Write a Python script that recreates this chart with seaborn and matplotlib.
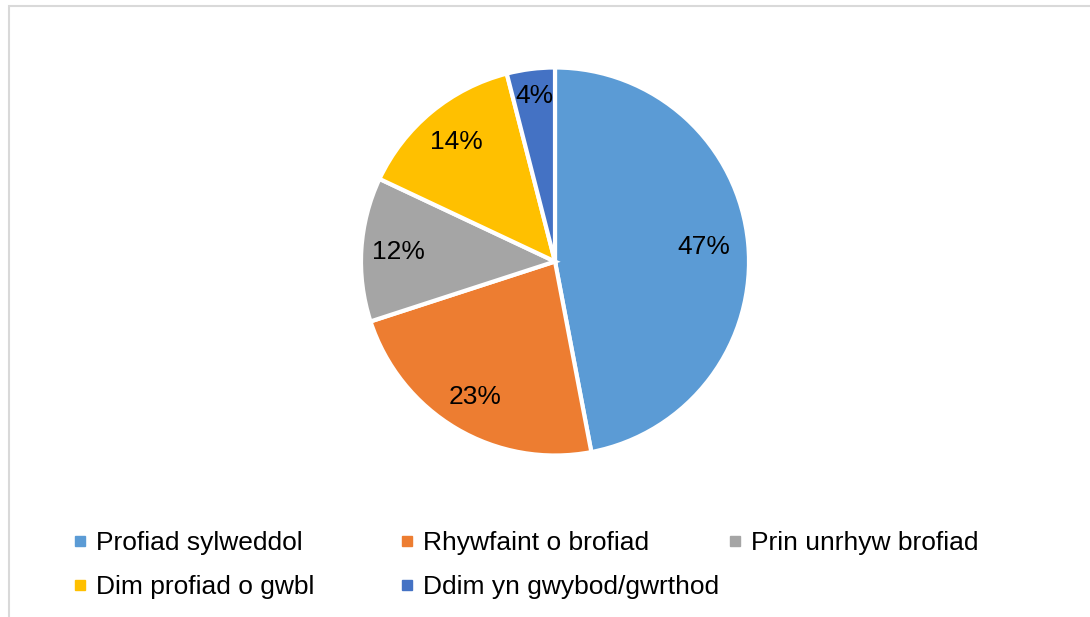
import matplotlib
matplotlib.use("Agg")
import numpy as np
import matplotlib.pyplot as plt
import seaborn as sns
from matplotlib.lines import Line2D
from matplotlib.patches import Rectangle

# data
categories = ['Profiad sylweddol', 'Rhywfaint o brofiad', 'Prin unrhyw brofiad',
              'Dim profiad o gwbl', 'Ddim yn gwybod/gwrthod']
shares = [47, 23, 12, 14, 4]
colors = ['#5B9BD5', '#ED7D31', '#A5A5A5', '#FFC000', '#4472C4']
label_dist = [0.77, 0.81, 0.81, 0.80, 0.86]  # radial position of % labels

sns.set_theme(style='white')
plt.rcParams['font.family'] = ['Liberation Sans', 'DejaVu Sans']
plt.rcParams['text.color'] = 'black'

W, H = 1090, 617
fig = plt.figure(figsize=(W / 100, H / 100), dpi=100)

# outer chart border (only left and top edges visible in the crop)
fig.patches.append(Rectangle((8.5 / W, -0.1), 1.2, (H - 5.5) / H + 0.1,
                             transform=fig.transFigure, fill=False,
                             edgecolor='#D9D9D9', linewidth=1.5))

# pie axes: centre (555, 262), radius ~194 px
cx, cy, r = 555, 261.5, 194
ax = fig.add_axes([(cx - r) / W, (H - cy - r) / H, 2 * r / W, 2 * r / H])
wedges, _, autotexts = ax.pie(shares, colors=colors, startangle=90, counterclock=False,
                              autopct='%d%%', pctdistance=0.8,
                              wedgeprops=dict(edgecolor='white', linewidth=3),
                              textprops=dict(fontsize=19, color='black'))
for w, t, d in zip(wedges, autotexts, label_dist):
    mid = np.deg2rad((w.theta1 + w.theta2) / 2)
    t.set_position((d * np.cos(mid), d * np.sin(mid)))
ax.set_xlim(-1, 1)
ax.set_ylim(-1, 1)
ax.set_aspect('equal')
ax.axis('off')

# legend: fixed-width columns, row-major order
col_x = [75, 402, 730]
columns = [[0, 3], [1, 4], [2]]
for x, idx in zip(col_x, columns):
    handles = [Line2D([], [], linestyle='none', marker='s', markersize=7,
                      markerfacecolor=colors[i], markeredgecolor=colors[i])
               for i in idx]
    fig.legend(handles, [categories[i] for i in idx],
               loc='upper left', bbox_to_anchor=(x / W, (H - 531) / H),
               frameon=False, fontsize=19, handlelength=0.4,
               handletextpad=0.4, labelspacing=0.75,
               borderpad=0, borderaxespad=0, labelcolor='black')

fig.savefig('out.png', dpi=100, facecolor='white')
